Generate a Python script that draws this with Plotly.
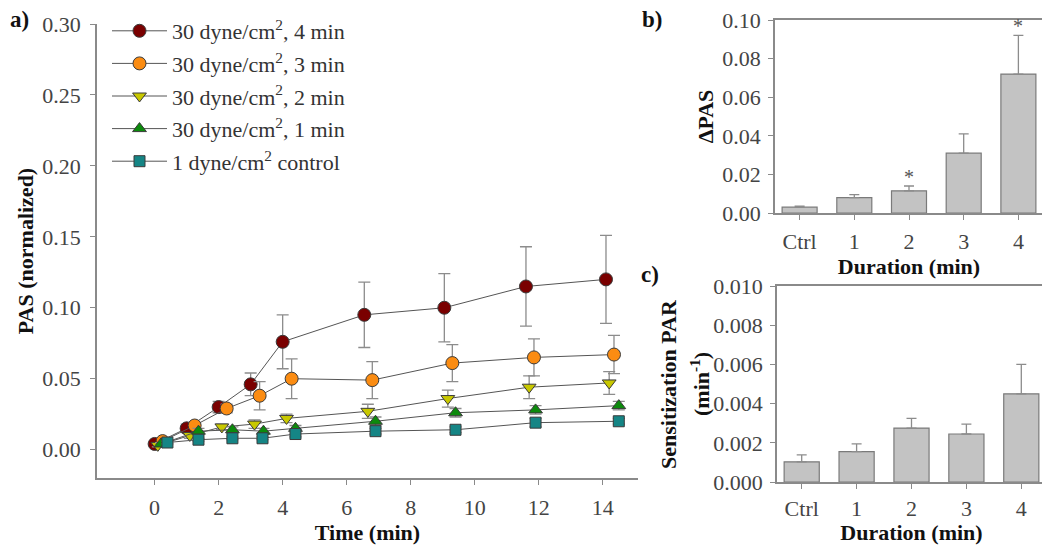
import plotly.graph_objects as go

# ---------------- Panel a data ----------------
names = ["30 dyne/cm<sup>2</sup>, 4 min", "30 dyne/cm<sup>2</sup>, 3 min",
         "30 dyne/cm<sup>2</sup>, 2 min", "30 dyne/cm<sup>2</sup>, 1 min",
         "1 dyne/cm<sup>2</sup> control"]

t_4min = [0.0, 1.0, 2.0, 3.0, 4.0, 6.55, 9.05, 11.6, 14.1]
pas_4min = [0.004, 0.015, 0.030, 0.046, 0.076, 0.095, 0.100, 0.115, 0.120]
err_4min = [0.001, 0.003, 0.004, 0.008, 0.019, 0.023, 0.024, 0.028, 0.031]

t_3min = [0.25, 1.25, 2.25, 3.28, 4.28, 6.8, 9.3, 11.85, 14.35]
pas_3min = [0.006, 0.017, 0.029, 0.038, 0.050, 0.049, 0.061, 0.065, 0.067]
err_3min = [0.001, 0.002, 0.003, 0.010, 0.014, 0.013, 0.013, 0.013, 0.0135]

t_2min = [0.1, 1.1, 2.1, 3.12, 4.12, 6.66, 9.16, 11.7, 14.2]
pas_2min = [0.003, 0.010, 0.016, 0.018, 0.022, 0.027, 0.036, 0.044, 0.047]
err_2min = [0.001, 0.002, 0.002, 0.003, 0.003, 0.005, 0.006, 0.008, 0.008]

t_1min = [0.2, 1.37, 2.43, 3.4, 4.4, 6.9, 9.4, 11.9, 14.5]
pas_1min = [0.004, 0.013, 0.014, 0.013, 0.015, 0.020, 0.026, 0.028, 0.031]
err_1min = [0.001, 0.002, 0.002, 0.002, 0.002, 0.003, 0.003, 0.003, 0.003]

t_ctrl = [0.4, 1.37, 2.43, 3.37, 4.4, 6.9, 9.4, 11.9, 14.5]
pas_ctrl = [0.005, 0.007, 0.008, 0.008, 0.011, 0.013, 0.014, 0.019, 0.020]
err_ctrl = [0.001, 0.001, 0.001, 0.001, 0.002, 0.002, 0.002, 0.003, 0.002]

time_ticks = [0, 2, 4, 6, 8, 10, 12, 14]
pas_ticks = [0.00, 0.05, 0.10, 0.15, 0.20, 0.25, 0.30]

# ---------------- Panels b and c data ----------------
durations = ["Ctrl", "1", "2", "3", "4"]
dpas = [0.003, 0.008, 0.0115, 0.031, 0.072]
dpas_err = [0.0005, 0.0015, 0.0025, 0.010, 0.020]
dpas_significant = ["2", "4"]
dpas_ticks = [0.00, 0.02, 0.04, 0.06, 0.08, 0.10]

par = [0.00103, 0.00155, 0.00275, 0.00245, 0.0045]
par_err = [0.00035, 0.0004, 0.0005, 0.0005, 0.0015]
par_ticks = [0.000, 0.002, 0.004, 0.006, 0.008, 0.010]

# ---------------- styling ----------------
FONT = "Liberation Serif"
OFF = 8                      # page body margin of the html page
W, H = 1050 - OFF, 545 - OFF
AXIS_COL = "#8a8a8a"
TICK_FONT = dict(family=FONT, size=22, color="#444444")
TITLE_FONT = dict(family=FONT, size=22, color="#111111")

colors = ["#7a0000", "#fb8c12", "#c8c800", "#0c8a0c", "#158585"]
symbols = ["circle", "circle", "triangle-down", "triangle-up", "square"]
sizes = [13, 13, 12, 12, 11]

fig = go.Figure()

series = [
    (t_4min, pas_4min, err_4min),
    (t_3min, pas_3min, err_3min),
    (t_2min, pas_2min, err_2min),
    (t_1min, pas_1min, err_1min),
    (t_ctrl, pas_ctrl, err_ctrl),
]
for i, (tx, ty, te) in enumerate(series):
    fig.add_trace(go.Scatter(
        x=tx, y=ty, name=names[i], mode="lines+markers",
        legendgroup="g%d" % i,
        line=dict(color="#555555", width=1),
        marker=dict(color=colors[i], symbol=symbols[i], size=sizes[i],
                    line=dict(color="#3a3a3a", width=1)),
        error_y=dict(type="data", array=te, color="#8c8c8c", thickness=1.3, width=6),
        xaxis="x", yaxis="y",
    ))

bar_style = dict(color="#c3c3c3", line=dict(color="#7a7a7a", width=1.2))
fig.add_trace(go.Bar(
    x=durations, y=dpas, width=0.64, marker=bar_style, showlegend=False,
    error_y=dict(type="data", symmetric=False, array=dpas_err,
                 arrayminus=[0] * len(dpas), color="#8c8c8c", thickness=1.3, width=5),
    xaxis="x2", yaxis="y2",
))
fig.add_trace(go.Bar(
    x=durations, y=par, width=0.64, marker=bar_style, showlegend=False,
    error_y=dict(type="data", symmetric=False, array=par_err,
                 arrayminus=[0] * len(par), color="#8c8c8c", thickness=1.3, width=5),
    xaxis="x3", yaxis="y3",
))


def px_x(a, b):
    return [(a - OFF) / W, (b - OFF) / W]


def px_y(top, bottom):
    return [1 - (bottom - OFF) / H, 1 - (top - OFF) / H]


def pxx(a):
    return (a - OFF) / W


def pyy(a):
    return 1 - (a - OFF) / H


common = dict(showgrid=False, zeroline=False, showline=True, linecolor=AXIS_COL,
              linewidth=1.5, ticks="outside", ticklen=5, tickcolor=AXIS_COL,
              tickwidth=1.2, tickfont=TICK_FONT, automargin=False,
              ticklabeloverflow="allow")

fig.update_layout(
    width=W, height=H,
    margin=dict(l=0, r=0, t=0, b=0),
    paper_bgcolor="white", plot_bgcolor="white",
    font=dict(family=FONT),
    xaxis=dict(domain=px_x(97, 638), range=[-1.8, 15.1], tickvals=time_ticks,
               ticklabelstandoff=4,
               title=dict(text="<b>Time (min)</b>", font=TITLE_FONT, standoff=3),
               anchor="y", **common),
    yaxis=dict(domain=px_y(24, 478), range=[-0.02, 0.30], tickvals=pas_ticks,
               tickformat=".2f", ticklabelstandoff=5,
               title=dict(text="<b>PAS (normalized)</b>", font=TITLE_FONT, standoff=3),
               anchor="x", **common),
    xaxis2=dict(domain=px_x(775, 1043), range=[-0.45, 4.45], type="category",
                ticklabelstandoff=3,
                title=dict(text="<b>Duration (min)</b>", font=TITLE_FONT, standoff=0),
                anchor="y2", mirror=True, **common),
    yaxis2=dict(domain=px_y(20, 213), range=[0, 0.10], tickvals=dpas_ticks,
                tickformat=".2f", ticklabelstandoff=3,
                title=dict(text="<b>ΔPAS</b>", font=TITLE_FONT, standoff=3),
                anchor="x2", mirror=True, **common),
    xaxis3=dict(domain=px_x(777, 1046), range=[-0.45, 4.45], type="category",
                ticklabelstandoff=1,
                title=dict(text="<b>Duration (min)</b>", font=TITLE_FONT, standoff=3),
                anchor="y3", mirror=True, **common),
    yaxis3=dict(domain=px_y(286, 482), range=[0, 0.010], tickvals=par_ticks,
                tickformat=".3f", ticklabelstandoff=3,
                anchor="x3", mirror=True, **common),
    legend=dict(x=pxx(107), y=pyy(10), xanchor="left", yanchor="top",
                bgcolor="rgba(0,0,0,0)", font=dict(family=FONT, size=22, color="#333333"),
                tracegroupgap=1, itemwidth=55),
)

annotations = []
for cat, v, e in zip(durations, dpas, dpas_err):
    if cat in dpas_significant:
        annotations.append(dict(x=cat, y=v + e, xref="x2", yref="y2", text="*",
                                showarrow=False, yanchor="bottom", yshift=-4,
                                font=dict(family=FONT, size=20, color="#555555")))
# two-line y-axis title of panel c
for txt, xp in [("<b>Sensitization PAR</b>", 668), ("<b>(min<sup>-1</sup>)</b>", 700)]:
    annotations.append(dict(x=pxx(xp), y=pyy(384), xref="paper", yref="paper",
                            text=txt, textangle=-90, showarrow=False,
                            xanchor="center", yanchor="middle",
                            font=TITLE_FONT))
for label, xp, yp in [("a)", 19, 20), ("b)", 652, 20), ("c)", 650, 274)]:
    annotations.append(dict(x=pxx(xp), y=pyy(yp), xref="paper", yref="paper",
                            text="<b>%s</b>" % label, showarrow=False,
                            xanchor="center", yanchor="middle",
                            font=dict(family=FONT, size=23, color="#111111")))
fig.update_layout(annotations=annotations)

fig.write_html("out.html")
